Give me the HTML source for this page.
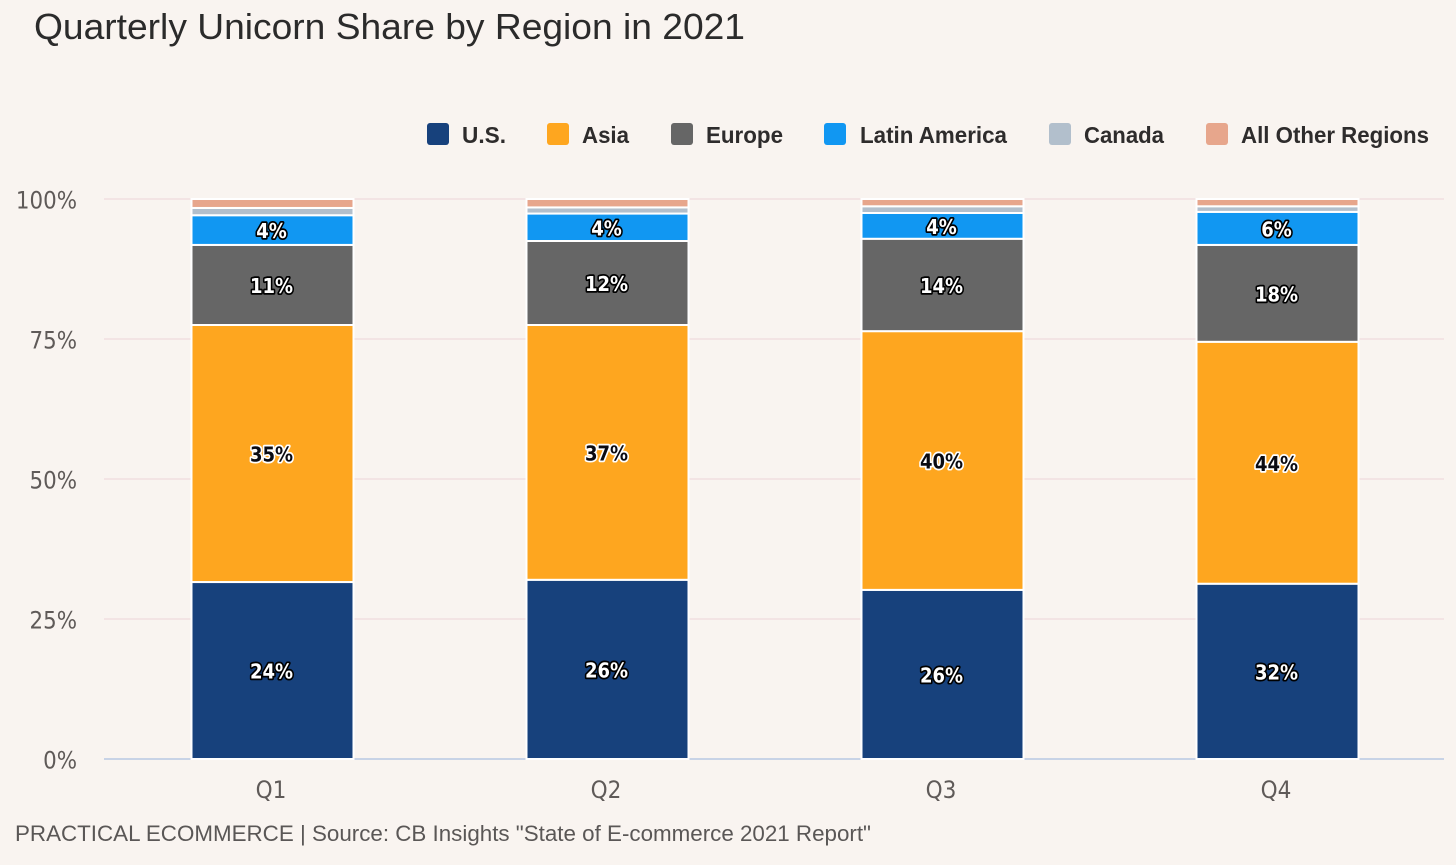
<!DOCTYPE html>
<html lang="en">
<head>
<meta charset="utf-8">
<title>Quarterly Unicorn Share by Region in 2021</title>
<style>
html,body{margin:0;padding:0;background:#f9f4f0;}
body{width:1456px;height:865px;overflow:hidden;}
svg{display:block;}
.title{font:36px "Liberation Sans",sans-serif;fill:#2b2b2b;}
.legend-text{font:bold 23px "Liberation Sans",sans-serif;fill:#2e2c2c;}
.tick{font:24px "DejaVu Sans",sans-serif;fill:#5f5a58;}
.footer{font:22px "Liberation Sans",sans-serif;fill:#5a5756;}
.val{font:bold 20px "DejaVu Sans",sans-serif;text-anchor:middle;paint-order:stroke;stroke-width:3.5px;stroke-linejoin:round;}
</style>
</head>
<body>
<svg id="chart" width="1456" height="865" viewBox="0 0 1456 865" xmlns="http://www.w3.org/2000/svg">
  <rect x="0" y="0" width="1456" height="865" fill="#f9f4f0"/>
  <text class="title" x="34" y="39" textLength="711" lengthAdjust="spacingAndGlyphs">Quarterly Unicorn Share by Region in 2021</text>

  <g>
    <g>
      <rect x="427" y="123" width="22" height="22" rx="3" fill="#17417c"/>
      <text class="legend-text" x="462" y="143" textLength="44" lengthAdjust="spacingAndGlyphs">U.S.</text>
    </g>
    <g>
      <rect x="547" y="123" width="22" height="22" rx="3" fill="#fea61f"/>
      <text class="legend-text" x="582" y="143" textLength="47" lengthAdjust="spacingAndGlyphs">Asia</text>
    </g>
    <g>
      <rect x="671" y="123" width="22" height="22" rx="3" fill="#666666"/>
      <text class="legend-text" x="706" y="143" textLength="77" lengthAdjust="spacingAndGlyphs">Europe</text>
    </g>
    <g>
      <rect x="824" y="123" width="22" height="22" rx="3" fill="#1197f2"/>
      <text class="legend-text" x="860" y="143" textLength="147" lengthAdjust="spacingAndGlyphs">Latin America</text>
    </g>
    <g>
      <rect x="1049" y="123" width="22" height="22" rx="3" fill="#b2bfcc"/>
      <text class="legend-text" x="1084" y="143" textLength="80" lengthAdjust="spacingAndGlyphs">Canada</text>
    </g>
    <g>
      <rect x="1206" y="123" width="22" height="22" rx="3" fill="#e7a68c"/>
      <text class="legend-text" x="1241" y="143" textLength="188" lengthAdjust="spacingAndGlyphs">All Other Regions</text>
    </g>
  </g>

  <g id="grid"></g>
  <g id="yaxis"></g>
  <g id="bars"></g>
  <g id="xaxis"></g>
  <g id="labels"></g>

  <text class="footer" x="15" y="841" textLength="856" lengthAdjust="spacingAndGlyphs">PRACTICAL ECOMMERCE | Source: CB Insights "State of E-commerce 2021 Report"</text>
</svg>
<script>
const categories = ['Q1', 'Q2', 'Q3', 'Q4'];
const yTicks = [0, 25, 50, 75, 100];

const usShare = [31.6, 32.0, 30.2, 31.3];
const asiaShare = [45.9, 45.5, 46.2, 43.2];
const europeShare = [14.3, 15.0, 16.5, 17.3];
const latinAmericaShare = [5.3, 4.9, 4.6, 5.9];
const canadaShare = [1.3, 1.1, 1.2, 1.0];
const otherShare = [1.6, 1.5, 1.3, 1.3];

const usLabels = ['24%', '26%', '26%', '32%'];
const asiaLabels = ['35%', '37%', '40%', '44%'];
const europeLabels = ['11%', '12%', '14%', '18%'];
const latinAmericaLabels = ['4%', '4%', '4%', '6%'];

const NS = 'http://www.w3.org/2000/svg';
const plot = { left: 104, right: 1444, top: 199, bottom: 759, barWidth: 162 };
const yScale = v => plot.bottom - (v / 100) * (plot.bottom - plot.top);
const band = (plot.right - plot.left) / categories.length;
const xCenter = i => plot.left + band * (i + 0.5) + 1;

const series = [
  { key: 'us', values: usShare, labels: usLabels, color: '#17417c', text: '#ffffff', halo: '#000000' },
  { key: 'asia', values: asiaShare, labels: asiaLabels, color: '#fea61f', text: '#0b0b12', halo: '#ffffff' },
  { key: 'europe', values: europeShare, labels: europeLabels, color: '#666666', text: '#ffffff', halo: '#000000' },
  { key: 'latin-america', values: latinAmericaShare, labels: latinAmericaLabels, color: '#1197f2', text: '#ffffff', halo: '#000000' },
  { key: 'canada', values: canadaShare, labels: null, color: '#b2bfcc' },
  { key: 'other', values: otherShare, labels: null, color: '#e7a68c' }
];

function make(tag, attrs, parent, text) {
  const el = document.createElementNS(NS, tag);
  for (const k in attrs) el.setAttribute(k, attrs[k]);
  if (text !== undefined) el.textContent = text;
  parent.appendChild(el);
  return el;
}

function condense(el, factor) {
  el.setAttribute('textLength', el.getComputedTextLength() * factor);
  el.setAttribute('lengthAdjust', 'spacingAndGlyphs');
}

const gridG = document.getElementById('grid');
const yG = document.getElementById('yaxis');
const barsG = document.getElementById('bars');
const xG = document.getElementById('xaxis');
const labelsG = document.getElementById('labels');

yTicks.forEach(t => {
  const y = yScale(t);
  const line = make('line', { x1: plot.left, x2: plot.right, y1: y, y2: y, stroke: t === 0 ? '#b8c8e2' : '#f1dfdf', 'stroke-width': 1.5 }, gridG);
  
  
  const label = make('text', { class: 'tick', x: 77, y: y + 9.5, 'text-anchor': 'end' }, yG, t + '%');
  
  
  condense(label, 0.89);
});

categories.forEach((cat, i) => {
  const cx = xCenter(i);
  let cumulative = 0;
  series.forEach(s => {
    const v = s.values[i];
    const y0 = yScale(cumulative);
    const y1 = yScale(cumulative + v);
    const rect = make('rect', {
      x: cx - plot.barWidth / 2,
      y: y1,
      width: plot.barWidth,
      height: y0 - y1,
      fill: s.color,
      stroke: '#ffffff',
      'stroke-width': 2
    }, barsG);
    
    
    if (s.labels) {
      const t = make('text', {
        class: 'val',
        x: cx - 1,
        y: (y0 + y1) / 2 + 8,
        fill: s.text,
        stroke: s.halo
      }, labelsG, s.labels[i]);
      
      
      condense(t, 0.9);
    }
    cumulative += v;
  });
  const tick = make('text', { class: 'tick', x: cx - 1.5, y: 798, 'text-anchor': 'middle' }, xG, cat);
  
  
  condense(tick, 0.9);
});
</script>
</body>
</html>
